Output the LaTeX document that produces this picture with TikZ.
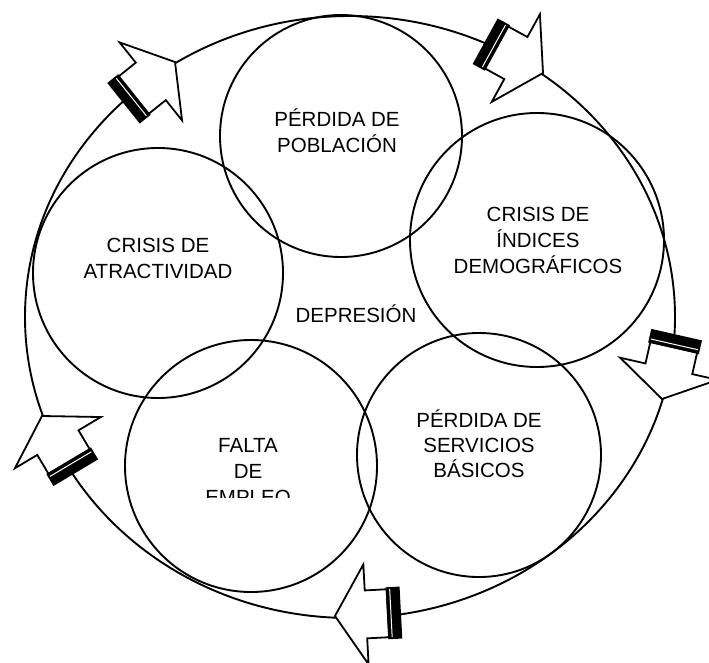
\documentclass[tikz,border=0pt]{standalone}
\usepackage{fontspec}
\setmainfont{Liberation Sans}
\newcommand\cyclearrow[3]{%
  \begin{scope}[shift={#1}, rotate=#2]
    \coordinate (#3) at (0pt,0pt);
    \filldraw[fill=white, line width=1.8pt, line join=miter]
      (0pt,0pt) -- (-31pt,50pt) -- (-31pt,24pt) -- (-53pt,24pt) --
      (-53pt,-24pt) -- (-31pt,-24pt) -- (-31pt,-50pt) -- cycle;
    \fill (-66pt,-26pt) rectangle (-52pt,26pt);
    \draw[white, line width=1pt] (-56pt,-24pt) -- (-56pt,24pt);
  \end{scope}}
\tikzset{
  ring/.style={circle, draw, line width=1.9pt, inner sep=0pt},
  lbl/.style={anchor=base, inner sep=0pt, font=\fontsize{20.5}{25}\selectfont}
}
\begin{document}
\begin{tikzpicture}[x=1pt, y=-1pt]
\useasboundingbox (0,0) rectangle (709,663);
% outer cycle
\draw[line width=1.9pt] (350,317) ellipse [x radius=325pt, y radius=301pt];
% circles
\node[ring, minimum size=242pt] (c1) at (341,136) {};
\node[ring, minimum size=250pt] (c2) at (158,273) {};
\node[ring, minimum size=254pt] (c3) at (537,240) {};
\node[ring, minimum size=244pt] (c4) at (479,455) {};
\node[ring, minimum size=252pt] (c5) at (251,466) {};
% arrows
\cyclearrow{(175,62)}{38.7}{a1}
\cyclearrow{(543,73)}{-28.8}{a2}
\cyclearrow{(662,399)}{-102.8}{a3}
\cyclearrow{(42,416)}{120.8}{a4}
\cyclearrow{(335,616)}{183}{a5}
% texts
\node[lbl] (t1a) at (337,127) {PÉRDIDA DE};
\node[lbl] (t1b) at (337,153) {POBLACIÓN};
\node[lbl] (t2a) at (158,252) {CRISIS DE};
\node[lbl] (t2b) at (158,278) {ATRACTIVIDAD};
\node[lbl] (t3a) at (538,221) {CRISIS DE};
\node[lbl] (t3b) at (538,247) {ÍNDICES};
\node[lbl] (t3c) at (538,273) {DEMOGRÁFICOS};
\node[lbl] (t0) at (356,322) {DEPRESIÓN};
\node[lbl] (t4a) at (479,427) {PÉRDIDA DE};
\node[lbl] (t4b) at (479,452) {SERVICIOS};
\node[lbl] (t4c) at (479,477) {BÁSICOS};
\node[lbl] (t5a) at (248,452) {FALTA};
\node[lbl] (t5b) at (248,478) {DE};
\begin{scope}
  \clip (150,480) rectangle (350,497);
  \node[lbl] (t5c) at (248,504) {EMPLEO};
\end{scope}
\end{tikzpicture}
\end{document}
